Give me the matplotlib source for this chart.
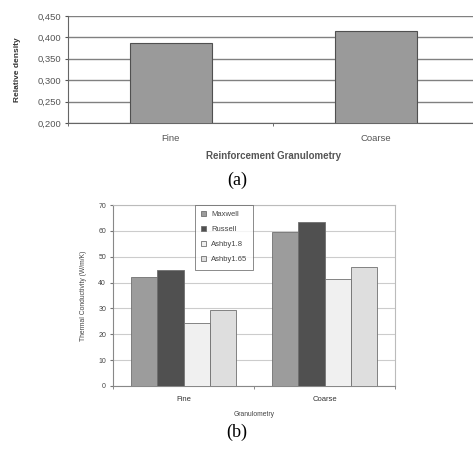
"""Relative density and thermal conductivity vs. reinforcement granulometry."""
import matplotlib
matplotlib.use("Agg")
import matplotlib.pyplot as plt
import numpy as np

# (a) relative density
density_cats = ["Fine", "Coarse"]
density_vals = [0.388, 0.416]
density_ticks = [0.200, 0.250, 0.300, 0.350, 0.400, 0.450]

# (b) thermal conductivity by model
tc_cats = ["Fine", "Coarse"]
tc_models = ["Maxwell", "Russell", "Ashby1.8", "Ashby1.65"]
tc_maxwell = [42.1, 59.5]
tc_russell = [44.8, 63.3]
tc_ashby18 = [24.3, 41.3]
tc_ashby165 = [29.3, 46.0]
tc_ticks = [0, 10, 20, 30, 40, 50, 60, 70]

W, H = 473, 450
fig = plt.figure(figsize=(W / 100, H / 100), dpi=100)
plt.rcParams["font.family"] = ["Liberation Sans", "DejaVu Sans"]

# ---- (a) ----
ax = fig.add_axes([68 / W, 1 - 123 / H, 410 / W, 107 / H])
x = np.arange(len(density_cats))
ax.bar(x, density_vals, width=0.4, color="#9a9a9a", edgecolor="#505050",
       linewidth=0.8, zorder=3)
ax.set_xlim(-0.5, 1.5)
ax.set_ylim(0.2, 0.45)
ax.set_yticks(density_ticks)
ax.set_yticklabels([f"{v:.3f}".replace(".", ",") for v in density_ticks],
                   fontsize=6.8, color="#555555")
ax.set_xticks(x)
ax.set_xticklabels(density_cats, fontsize=6.8, color="#555555")
ax.set_xticks([-0.5, 0.5, 1.5], minor=True)
ax.tick_params(axis="x", which="major", length=0, pad=8)
ax.tick_params(axis="x", which="minor", length=2, color="#555555", direction="out")
ax.tick_params(axis="y", length=2, color="#555555", pad=3)
ax.yaxis.grid(True, color="#808080", linewidth=1.0, zorder=0)
for s in ["top", "right"]:
    ax.spines[s].set_visible(False)
ax.spines["left"].set_color("#666666")
ax.spines["bottom"].set_color("#666666")
ax.set_ylabel("Relative density", fontsize=6, fontweight="bold", color="#333333", labelpad=12)
ax.set_xlabel("Reinforcement Granulometry", fontsize=7, fontweight="bold",
              color="#555555", labelpad=6)
fig.text(237 / W, 1 - 180 / H, "(a)", fontsize=13, family="Liberation Serif",
         ha="center", va="center")

# ---- (b) ----
bx = fig.add_axes([113 / W, 1 - 386 / H, 282 / W, 181 / H])
xb = np.arange(len(tc_cats))
bw = 0.186
series = [tc_maxwell, tc_russell, tc_ashby18, tc_ashby165]
colors = ["#9c9c9c", "#505050", "#f0f0f0", "#dedede"]
for i, (vals, c, lab) in enumerate(zip(series, colors, tc_models)):
    bx.bar(xb + (i - 1.5) * bw, vals, width=bw, color=c, edgecolor="#707070",
           linewidth=0.6, label=lab, zorder=3)
bx.set_xlim(-0.5, 1.5)
bx.set_ylim(0, 70)
bx.set_yticks(tc_ticks)
bx.set_yticklabels([str(t) for t in tc_ticks], fontsize=5, color="#444444")
bx.set_xticks(xb)
bx.set_xticklabels(tc_cats, fontsize=5.5, color="#333333")
bx.set_xticks([-0.5, 0.5, 1.5], minor=True)
bx.tick_params(axis="x", which="major", length=0, pad=7)
bx.tick_params(axis="x", which="minor", length=2, color="#777777")
bx.tick_params(axis="y", length=2, color="#777777", pad=3)
bx.yaxis.grid(True, color="#cccccc", linewidth=0.8, zorder=0)
for s in ["top", "right"]:
    bx.spines[s].set_color("#bbbbbb")
bx.spines["left"].set_color("#888888")
bx.spines["bottom"].set_color("#888888")
bx.set_ylabel("Thermal Conductivity (W/m/K)", fontsize=4.9, color="#444444", labelpad=8)
bx.set_xlabel("Granulometry", fontsize=4.9, color="#444444", labelpad=6)
leg = bx.legend(loc="upper left", bbox_to_anchor=((195 - 113) / 282, 1.0), fontsize=5.5,
                frameon=True, fancybox=False, edgecolor="#555555",
                handlelength=0.7, handleheight=0.7, handletextpad=0.6,
                labelspacing=1.0, borderpad=0.8, borderaxespad=0.0)
leg.get_frame().set_linewidth(0.6)
for t in leg.get_texts():
    t.set_color("#444444")
fig.text(237 / W, 1 - 432 / H, "(b)", fontsize=13, family="Liberation Serif",
         ha="center", va="center")

fig.savefig("out.png", dpi=100)
